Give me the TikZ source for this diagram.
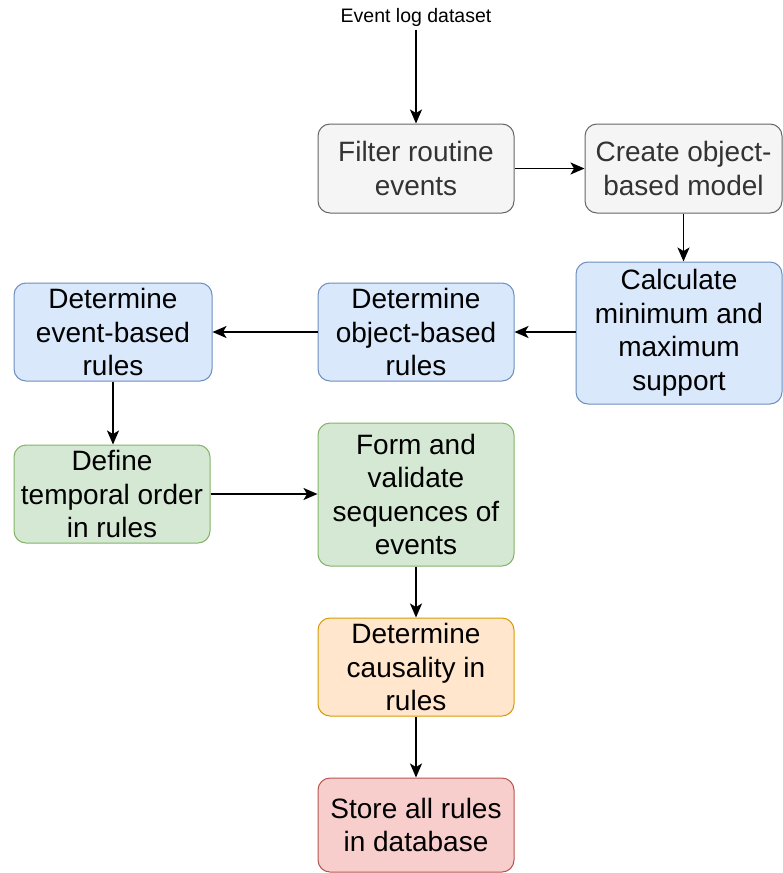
\documentclass[tikz,border=0pt]{standalone}
\usepackage{fontspec}
\setmainfont{Liberation Sans}
\usetikzlibrary{arrows.meta, positioning}
\definecolor{grayfill}{HTML}{F5F5F5}
\definecolor{graydraw}{HTML}{666666}
\definecolor{graytext}{HTML}{333333}
\definecolor{bluefill}{HTML}{DAE8FC}
\definecolor{bluedraw}{HTML}{6C8EBF}
\definecolor{greenfill}{HTML}{D5E8D4}
\definecolor{greendraw}{HTML}{82B366}
\definecolor{orangefill}{HTML}{FFE6CC}
\definecolor{orangedraw}{HTML}{D79B00}
\definecolor{redfill}{HTML}{F8CECC}
\definecolor{reddraw}{HTML}{B85450}
\tikzset{>={Stealth[length=14pt,width=12pt,inset=3.5pt]}}
\tikzset{
  stagebox/.style={draw, rounded corners=12pt, line width=1pt, align=center, inner sep=0pt,
    minimum width=196pt, minimum height=98pt, font=\fontsize{28}{33.5}\selectfont},
  graybox/.style={stagebox, fill=grayfill, draw=graydraw, text=graytext},
  bluebox/.style={stagebox, fill=bluefill, draw=bluedraw},
  greenbox/.style={stagebox, fill=greenfill, draw=greendraw},
  orangebox/.style={stagebox, fill=orangefill, draw=orangedraw},
  redbox/.style={stagebox, fill=redfill, draw=reddraw},
  flow/.style={->, line width=1.6pt}
}
\begin{document}
\begin{tikzpicture}[x=1pt, y=1pt]
\useasboundingbox (0,0) rectangle (783,-873);
\node[font=\fontsize{19.5}{24}\selectfont] (input) at (416,-17) {Event log dataset};
\node[graybox, minimum height=89pt] (filter) at (416,-168.5) {Filter routine\\events};
\node[graybox, minimum height=89pt, minimum width=197pt] (model) at (683.5,-168.5) {Create object-\\based model};
\node[bluebox, minimum width=206pt, minimum height=142pt] (support) at (679,-333) {Calculate\\minimum and\\maximum\\support};
\node[bluebox] (objrules) at (416,-332) {Determine\\object-based\\rules};
\node[bluebox, minimum width=198pt] (eventrules) at (113,-332) {Determine\\event-based\\rules};
\node[greenbox] (temporal) at (112,-494) {Define\\temporal order\\in rules};
\node[greenbox, minimum height=143pt] (sequences) at (416,-494.5) {Form and\\validate\\sequences of\\events};
\node[orangebox] (causality) at (416,-667) {Determine\\causality in\\rules};
\node[redbox, minimum height=94pt] (store) at (416,-825) {Store all rules\\in database};

\draw[flow] (input) -- (filter);
\draw[flow] (filter) -- (model);
\draw[flow] (model.south) -- (model.south |- support.north);
\draw[flow] (support.west |- objrules) -- (objrules);
\draw[flow] (objrules) -- (eventrules);
\draw[flow] (eventrules) -- (eventrules |- temporal.north);
\draw[flow] (temporal) -- (temporal -| sequences.west);
\draw[flow] (sequences) -- (causality);
\draw[flow] (causality) -- (store);
\end{tikzpicture}
\end{document}
